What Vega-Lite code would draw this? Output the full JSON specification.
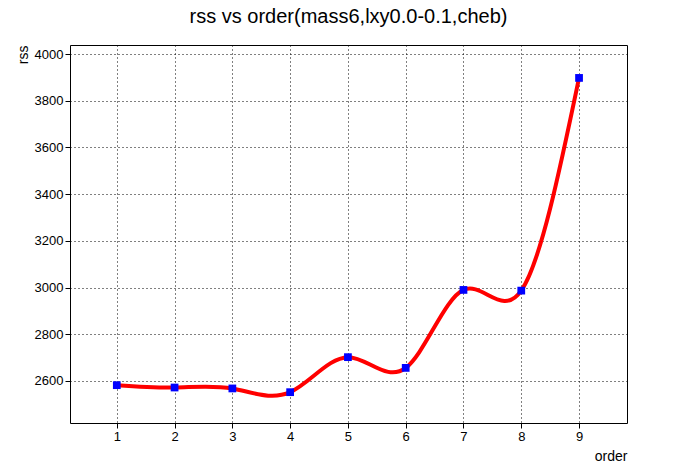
{
  "$schema": "https://vega.github.io/schema/vega-lite/v6.json",
  "width": 557,
  "height": 378,
  "autosize": {"type": "none"},
  "padding": {"left": 70, "top": 45, "right": 69, "bottom": 49},
  "background": "white",
  "title": {"text": "rss vs order(mass6,lxy0.0-0.1,cheb)", "fontSize": 20, "font": "Liberation Sans", "fontWeight": "normal", "offset": 18, "anchor": "middle"},
  "data": {
    "values": [
      {"order": 1, "rss": 2582},
      {"order": 2, "rss": 2572},
      {"order": 3, "rss": 2568},
      {"order": 4, "rss": 2552},
      {"order": 5, "rss": 2702},
      {"order": 6, "rss": 2656},
      {"order": 7, "rss": 2990},
      {"order": 8, "rss": 2987},
      {"order": 9, "rss": 3898}
    ]
  },
  "encoding": {
    "x": {
      "field": "order", "type": "quantitative",
      "scale": {"domain": [0.19, 9.83], "nice": false, "zero": false},
      "axis": {"values": [1,2,3,4,5,6,7,8,9], "format": "d", "title": "order", "titleAnchor": "end", "titleAlign": "right", "titleX": 557, "titleY": 26, "titleBaseline": "top", "titleFontWeight": "normal", "titleFontSize": 14, "labelFontSize": 13, "gridDash": [1, 3], "gridColor": "black", "gridOpacity": 1, "domain": false, "tickColor": "black", "labelColor": "black", "titleColor": "black"}
    },
    "y": {
      "field": "rss", "type": "quantitative",
      "scale": {"domain": [2420, 4039], "nice": false, "zero": false},
      "axis": {"values": [2600, 2800, 3000, 3200, 3400, 3600, 3800, 4000], "format": "d", "title": "rss", "titleAnchor": "end", "titleX": -54, "titleY": 0, "titleAngle": -90, "titleAlign": "right", "titleBaseline": "top", "titleFontWeight": "normal", "titleFontSize": 14, "labelFontSize": 13, "gridDash": [1, 3], "gridColor": "black", "gridOpacity": 1, "domain": false, "tickColor": "black", "labelColor": "black", "titleColor": "black"}
    }
  },
  "layer": [
    {"mark": {"type": "line", "interpolate": "natural", "color": "#ff0000", "strokeWidth": 4}},
    {"mark": {"type": "square", "color": "#0000ff", "opacity": 1, "size": 60}}
  ],
  "config": {
    "view": {"stroke": "black", "strokeWidth": 1},
    "font": "Liberation Sans",
    "axis": {"labelFont": "Liberation Sans", "titleFont": "Liberation Sans"}
  }
}
